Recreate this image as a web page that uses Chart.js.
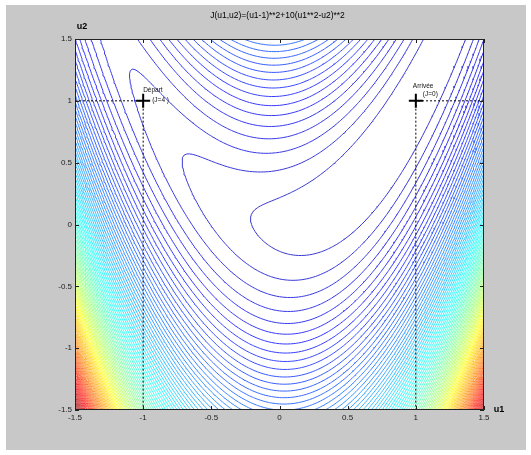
<!DOCTYPE html>
<html>
<head>
<meta charset="utf-8">
<script src="https://cdn.jsdelivr.net/npm/chart.js@4.4.0/dist/chart.umd.min.js"></script>
<style>
  html, body { margin: 0; padding: 0; background: #fff; }
  #frame { position: absolute; left: 6px; top: 5px; width: 520px; height: 445px; background: #c8c8c8; }
  #wrap { position: absolute; left: 0; top: 0; width: 531px; height: 455px; }
</style>
</head>
<body>
<div id="frame"></div>
<div id="wrap"><canvas id="chart" width="531" height="455"></canvas></div>
<script>
// axes
const u1Ticks = [-1.5, -1, -0.5, 0, 0.5, 1, 1.5];
const u2Ticks = [-1.5, -1, -0.5, 0, 0.5, 1, 1.5];

// contour levels (100 niveaux entre 0 et ~147)
const levelStep = 1.47;
const levelCount = 99;

// points remarquables
const pointU1 = [-1, 1];
const pointU2 = [1, 1];
const pointName = ["Départ", "Arrivée"];
const pointJ = ["(J=4 )", "(J=0)"];

const titleText = "J(u1,u2)=(u1-1)**2+10(u1**2-u2)**2";

// critere du titre
function J(u1, u2) {
  return (u1 - 1) ** 2 + 10 * (u1 * u1 - u2) ** 2;
}

const lo = u1Ticks[0], hi = u1Ticks[u1Ticks.length - 1];
const N = 150;
const h = (hi - lo) / N;
const Z = [];
for (let j = 0; j <= N; j++) {
  const row = [];
  for (let i = 0; i <= N; i++) row.push(J(lo + i * h, lo + j * h));
  Z.push(row);
}

// marching squares + chainage des segments
function contourLevel(c) {
  const W = N + 1, V_OFF = W * W;
  const pts = new Map();
  const adj = new Map();
  const segs = [];
  function crossH(i, j) {
    const a = Z[j][i], b = Z[j][i + 1];
    if ((a < c) === (b < c)) return -1;
    const id = j * W + i;
    if (!pts.has(id)) { const t = (c - a) / (b - a); pts.set(id, [lo + (i + t) * h, lo + j * h]); }
    return id;
  }
  function crossV(i, j) {
    const a = Z[j][i], b = Z[j + 1][i];
    if ((a < c) === (b < c)) return -1;
    const id = V_OFF + j * W + i;
    if (!pts.has(id)) { const t = (c - a) / (b - a); pts.set(id, [lo + i * h, lo + (j + t) * h]); }
    return id;
  }
  function add(a, b) {
    const k = segs.length;
    segs.push([a, b]);
    if (!adj.has(a)) adj.set(a, []);
    if (!adj.has(b)) adj.set(b, []);
    adj.get(a).push(k);
    adj.get(b).push(k);
  }
  for (let j = 0; j < N; j++) {
    for (let i = 0; i < N; i++) {
      const e = [crossH(i, j), crossV(i + 1, j), crossH(i, j + 1), crossV(i, j)].filter(v => v >= 0);
      if (e.length === 2) add(e[0], e[1]);
      else if (e.length === 4) {
        const mid = (Z[j][i] + Z[j][i + 1] + Z[j + 1][i] + Z[j + 1][i + 1]) / 4;
        if ((mid < c) === (Z[j][i] < c)) { add(e[0], e[1]); add(e[2], e[3]); }
        else { add(e[0], e[3]); add(e[1], e[2]); }
      }
    }
  }
  const used = new Uint8Array(segs.length);
  function walk(start) {
    const list = [];
    let cur = start;
    for (;;) {
      let next = -1;
      for (const k of adj.get(cur)) if (!used[k]) { next = k; break; }
      if (next < 0) break;
      used[next] = 1;
      const sg = segs[next];
      cur = sg[0] === cur ? sg[1] : sg[0];
      list.push(cur);
    }
    return list;
  }
  const out = [];
  for (let s = 0; s < segs.length; s++) {
    if (used[s]) continue;
    used[s] = 1;
    const fwd = walk(segs[s][1]);
    const back = walk(segs[s][0]);
    const chain = back.reverse().concat([segs[s][0], segs[s][1]], fwd);
    for (const id of chain) { const p = pts.get(id); out.push({ x: p[0], y: p[1] }); }
    out.push({ x: null, y: null });
  }
  return out;
}

// jet un peu delave (comme la capture)
function jet(t) {
  t = 0.06 + 0.94 * t;
  const cl = v => Math.max(0, Math.min(1, v));
  const r = cl(1.5 - Math.abs(4 * t - 3));
  const g = cl(1.5 - Math.abs(4 * t - 2));
  const b = cl(1.5 - Math.abs(4 * t - 1));
  const m = v => Math.round((0.78 * v + 0.22) * 255);
  return `rgb(${m(r)},${m(g)},${m(b)})`;
}

const datasets = [];

// croix Départ / Arrivée
datasets.push({
  data: pointU1.map((u, i) => ({ x: u, y: pointU2[i] })),
  showLine: false,
  pointStyle: "cross",
  pointRadius: 7,
  pointBorderWidth: 2,
  borderWidth: 2,
  borderColor: "#000",
  pointBorderColor: "#000",
  order: 0,
});

// pointilles vers les axes
pointU1.forEach((u, i) => {
  const edge = u < 0 ? lo : hi;
  datasets.push({
    data: [{ x: edge, y: pointU2[i] }, { x: u, y: pointU2[i] }, { x: u, y: u2Ticks[0] }],
    showLine: true,
    borderColor: "#000",
    borderWidth: 1,
    borderDash: [2, 2],
    pointRadius: 0,
    order: 1,
  });
});

for (let k = 1; k <= levelCount; k++) {
  const c = k * levelStep;
  datasets.push({
    data: contourLevel(c),
    showLine: true,
    spanGaps: false,
    borderColor: jet(k / (levelCount + 1)),
    borderWidth: 1,
    pointRadius: 0,
    tension: 0,
    order: 2,
  });
}

const labelOffsets = [
  { name: [0, -11], val: [9, -1] },
  { name: [-3, -15], val: [7, -7] },
];

const decor = {
  id: "decor",
  beforeDraw(chart) {
    const { ctx, chartArea: a } = chart;
    ctx.save();
    ctx.fillStyle = "#fff";
    ctx.fillRect(a.left, a.top, a.right - a.left, a.bottom - a.top);
    ctx.restore();
  },
  afterDatasetsDraw(chart) {
    const { ctx, chartArea: a, scales } = chart;
    ctx.save();
    ctx.strokeStyle = "#222";
    ctx.lineWidth = 1;
    ctx.strokeRect(a.left + 0.5, a.top + 0.5, a.right - a.left - 1, a.bottom - a.top - 1);
    ctx.beginPath();
    u1Ticks.forEach(v => {
      const x = Math.round(scales.x.getPixelForValue(v)) + 0.5;
      ctx.moveTo(x, a.bottom); ctx.lineTo(x, a.bottom - 4);
      ctx.moveTo(x, a.top); ctx.lineTo(x, a.top + 4);
    });
    u2Ticks.forEach(v => {
      const y = Math.round(scales.y.getPixelForValue(v)) + 0.5;
      ctx.moveTo(a.left, y); ctx.lineTo(a.left + 4, y);
      ctx.moveTo(a.right, y); ctx.lineTo(a.right - 4, y);
    });
    ctx.stroke();

    // etiquettes des points
    ctx.fillStyle = "#111";
    ctx.font = '6.5px "Liberation Sans", Arial, sans-serif';
    ctx.textBaseline = "middle";
    ctx.textAlign = "left";
    pointU1.forEach((u, i) => {
      const px = scales.x.getPixelForValue(u);
      const py = scales.y.getPixelForValue(pointU2[i]);
      const o = labelOffsets[i];
      ctx.fillText(pointName[i], px + o.name[0], py + o.name[1]);
      ctx.fillText(pointJ[i], px + o.val[0], py + o.val[1]);
    });
    ctx.restore();
  },
  afterDraw(chart) {
    const { ctx, chartArea: a } = chart;
    ctx.save();
    ctx.fillStyle = "#000";
    ctx.textBaseline = "middle";
    ctx.textAlign = "center";
    ctx.font = '8.5px "Liberation Sans", Arial, sans-serif';
    ctx.fillText(titleText, (a.left + a.right) / 2 - 2, 16);
    ctx.font = 'bold 9px "Liberation Sans", Arial, sans-serif';
    ctx.fillText("u2", a.left + 7, 27);
    ctx.fillText("u1", a.right + 15, a.bottom);
    ctx.restore();
  },
};

const tickFont = { family: '"Liberation Sans", Arial, sans-serif', size: 8 };

new Chart(document.getElementById("chart").getContext("2d"), {
  type: "scatter",
  data: { datasets },
  options: {
    responsive: false,
    devicePixelRatio: 1,
    animation: false,
    events: [],
    layout: { padding: { left: 0, top: 39, right: 47, bottom: 25 } },
    plugins: { legend: { display: false }, tooltip: { enabled: false } },
    scales: {
      x: {
        type: "linear",
        min: lo,
        max: hi,
        grid: { display: false, drawTicks: false },
        border: { display: false },
        afterBuildTicks: s => { s.ticks = u1Ticks.map(v => ({ value: v })); },
        afterFit: s => { s.height = 20; },
        ticks: { font: tickFont, color: "#222", padding: 3, maxRotation: 0, autoSkip: false, callback: v => String(v) },
      },
      y: {
        type: "linear",
        min: u2Ticks[0],
        max: u2Ticks[u2Ticks.length - 1],
        grid: { display: false, drawTicks: false },
        border: { display: false },
        afterBuildTicks: s => { s.ticks = u2Ticks.map(v => ({ value: v })); },
        afterFit: s => { s.width = 75; },
        ticks: { font: tickFont, color: "#222", padding: 3, autoSkip: false, callback: v => String(v) },
      },
    },
  },
  plugins: [decor],
});
</script>
</body>
</html>
